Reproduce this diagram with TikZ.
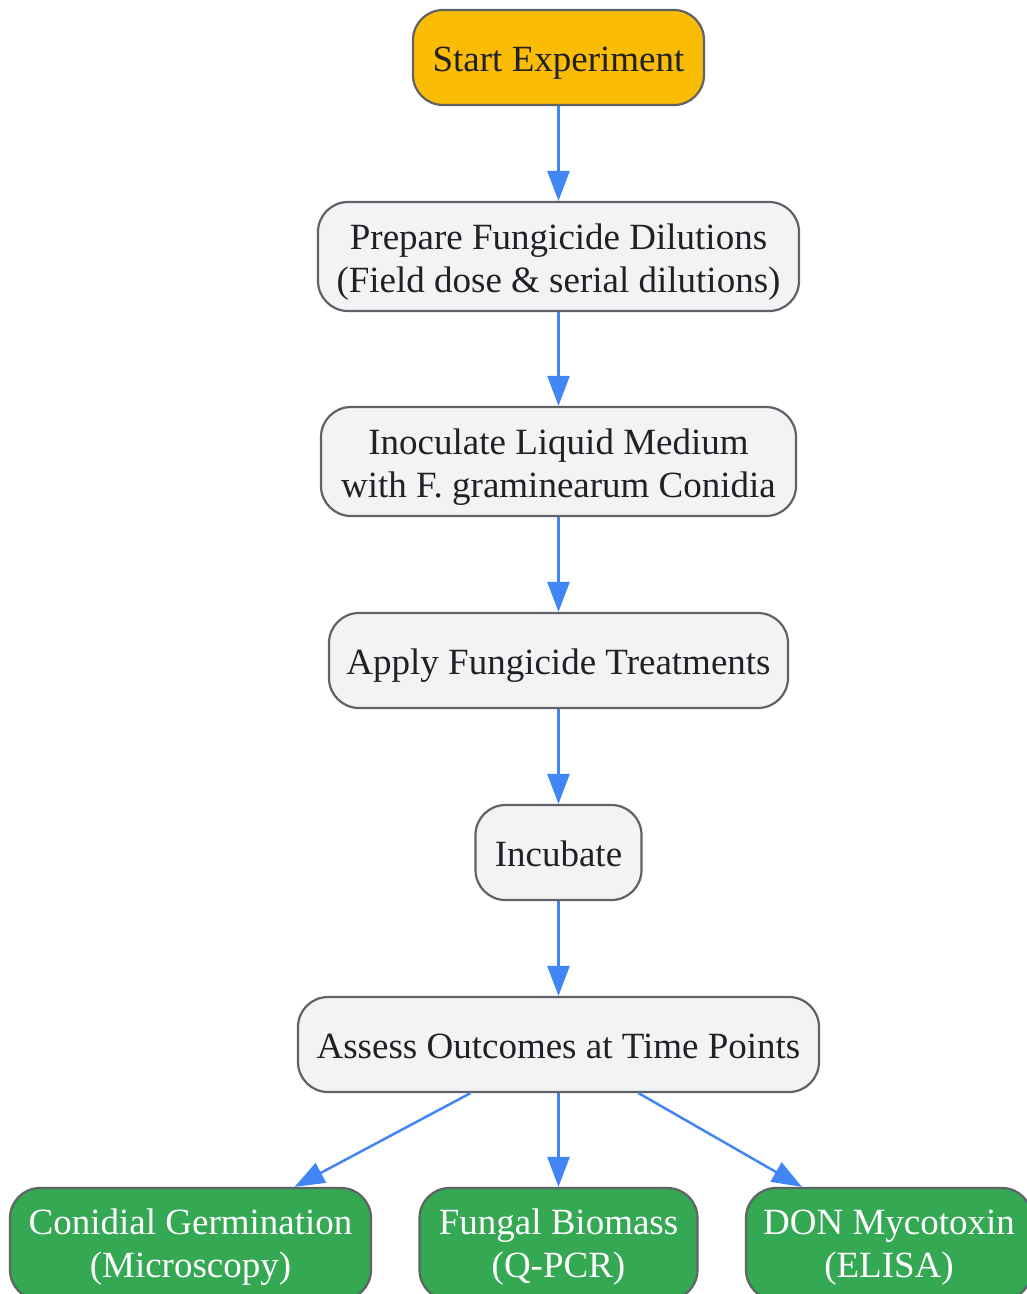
\documentclass[tikz,border=0pt]{standalone}
\usepackage{fontspec}
\setmainfont{Liberation Serif}
\usetikzlibrary{arrows.meta,calc}
\definecolor{startc}{HTML}{FBBC05}
\definecolor{procc}{HTML}{F1F3F4}
\definecolor{outc}{HTML}{34A853}
\definecolor{edgec}{HTML}{4285F4}
\definecolor{borderc}{HTML}{5F6368}
\definecolor{txtc}{HTML}{202124}
\newcommand{\liftby}[1]{\rule[-\fontchardp\font`(]{0pt}{\dimexpr\fontcharht\font`(+\fontchardp\font`(+#1\relax}}
\tikzset{
  box/.style={draw=borderc, line width=2.2pt, rounded corners=30pt, inner sep=0pt,
    align=center, text=txtc, font=\fontsize{37}{43}\selectfont, fill=procc},
  startbox/.style={box, fill=startc},
  outbox/.style={box, fill=outc, text=white},
  flow/.style={draw=edgec, line width=2.5pt, -{Triangle[length=30pt,width=22pt]}},
}
\begin{document}
\begin{tikzpicture}[x=1pt,y=-1pt]
\useasboundingbox (0,0) rectangle (1027,1294);
\clip (0,0) rectangle (1027,1294);
\node[startbox, minimum width=291pt, minimum height=95pt] (start) at (558.5,57.5) {\liftby{12pt}Start Experiment};
\node[box, minimum width=481pt, minimum height=109pt] (prep) at (558.5,256.5) {\liftby{12pt}Prepare Fungicide Dilutions\\(Field dose \& serial dilutions)};
\node[box, minimum width=475pt, minimum height=109pt] (inoc) at (558.5,461.5) {\liftby{12pt}Inoculate Liquid Medium\\with F. graminearum Conidia};
\node[box, minimum width=459pt, minimum height=95pt] (apply) at (558.5,660.5) {\liftby{12pt}Apply Fungicide Treatments};
\node[box, minimum width=166pt, minimum height=95pt] (incub) at (558.5,852.5) {\liftby{12pt}Incubate};
\node[box, minimum width=521pt, minimum height=95pt] (assess) at (558.5,1044.5) {\liftby{12pt}Assess Outcomes at Time Points};
\node[outbox, minimum width=361pt, minimum height=112pt] (germ) at (190.5,1244) {\liftby{8pt}Conidial Germination\\(Microscopy)};
\node[outbox, minimum width=278pt, minimum height=112pt] (bio) at (558.5,1244) {\liftby{8pt}Fungal Biomass\\(Q-PCR)};
\node[outbox, minimum width=286pt, minimum height=112pt] (don) at (889,1244) {\liftby{8pt}DON Mycotoxin\\(ELISA)};
\draw[flow] (start) -- (prep);
\draw[flow] (prep) -- (inoc);
\draw[flow] (inoc) -- (apply);
\draw[flow] (apply) -- (incub);
\draw[flow] (incub) -- (assess);
\draw[flow] ($(assess.south)+(-88,0)$) -- ($(germ.north)+(104,0)$);
\draw[flow] (assess.south) -- (bio.north);
\draw[flow] ($(assess.south)+(80,0)$) -- ($(don.north)+(-87,0)$);
\end{tikzpicture}
\end{document}
